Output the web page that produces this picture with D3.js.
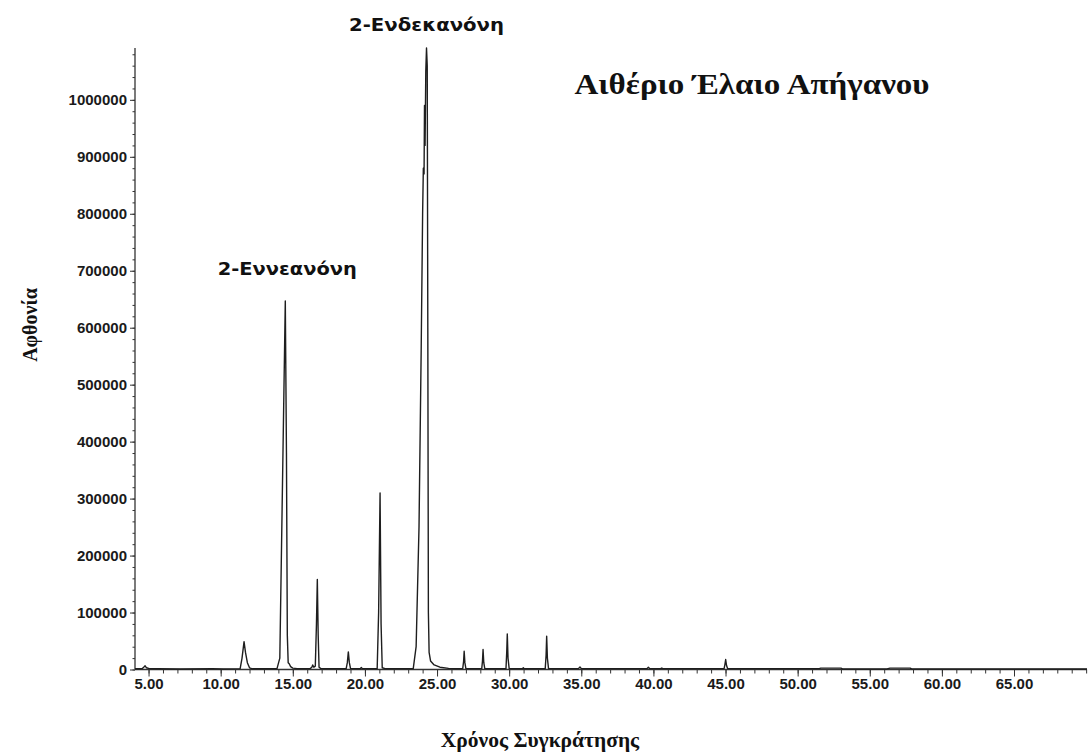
<!DOCTYPE html>
<html>
<head>
<meta charset="utf-8">
<script src="https://cdn.jsdelivr.net/npm/d3@7"></script>
<style>
  html, body { margin: 0; padding: 0; background: #fff; }
  svg { display: block; }
</style>
</head>
<body>
<svg id="chart" width="1089" height="755"></svg>
<script>
// Retention time (min) of each sampled point of the chromatogram trace
const retentionTime = [
  4.06, 4.55, 4.68, 4.76, 4.86, 5.05, 5.65, 7.2, 9.4, 10.2,
  11.35, 11.48, 11.62, 11.72, 11.85, 12.0, 12.2,
  13.9, 14.1, 14.3, 14.48, 14.56, 14.62, 14.68, 14.75, 14.85, 15.0, 15.3,
  16.2, 16.32, 16.38, 16.46, 16.56, 16.64, 16.70, 16.76, 16.82, 16.95,
  18.7, 18.78, 18.85, 18.92, 19.0, 19.68, 19.75, 19.82,
  20.85, 20.95, 21.05, 21.12, 21.2, 21.4,
  23.35, 23.55, 23.75, 23.9, 24.0, 24.05, 24.1, 24.13, 24.17, 24.22, 24.27,
  24.32, 24.36, 24.4, 24.45, 24.55, 24.8, 25.2, 25.8, 26.3,
  26.78, 26.84, 26.88, 26.93, 27.0,
  28.1, 28.15, 28.19, 28.24, 28.31,
  29.78, 29.83, 29.87, 29.92, 30.0, 30.92, 30.98, 31.04,
  32.5, 32.56, 32.60, 32.65, 32.73,
  34.8, 34.91, 35.0, 39.55, 39.65, 39.75, 40.5, 40.58, 40.66,
  44.9, 44.96, 45.01, 45.07, 45.15,
  51.5, 51.6, 53.0, 53.1, 56.2, 56.4, 57.8, 57.9, 70.06
];

// Detector abundance at each retention time above
const abundance = [
  1200, 1500, 4500, 6500, 3000, 1500, 1200, 1000, 1500, 1000,
  1500, 20000, 49000, 30000, 12000, 3000, 1200,
  1200, 20000, 350000, 647000, 380000, 60000, 12000, 10000, 5000, 2500, 1500,
  1500, 4000, 8000, 4000, 6000, 80000, 158000, 60000, 4000, 1500,
  1500, 12000, 31000, 12000, 2000, 1500, 3500, 1500,
  1500, 100000, 310000, 80000, 3000, 1500,
  1500, 40000, 250000, 560000, 800000, 880000, 870000, 990000, 920000, 1050000, 1091000,
  1060000, 600000, 100000, 30000, 15000, 8000, 4000, 2000, 1500,
  1500, 14000, 32000, 12000, 1500,
  1500, 15000, 35000, 12000, 1500,
  1500, 30000, 62500, 20000, 1500, 1500, 3000, 1500,
  1500, 25000, 58500, 20000, 1500,
  1500, 4500, 1500, 1500, 4000, 1500, 1500, 2500, 1500,
  1500, 9000, 17500, 7000, 1500,
  1500, 2500, 2500, 1000, 1000, 2500, 2500, 1000, 1000
];

// Axis ticks
const yMajorTicks = [0, 100000, 200000, 300000, 400000, 500000, 600000, 700000, 800000, 900000, 1000000];
const yMinorTicks = d3.range(0, 1091000, 20000);
const xMajorTicks = [5, 10, 15, 20, 25, 30, 35, 40, 45, 50, 55, 60, 65];
const xMinorTicks = d3.range(5, 71, 1);

// Named compounds and the retention time of their peak
const compoundNames = ["2-Εννεανόνη", "2-Ενδεκανόνη"];
const compoundTimes = [14.48, 24.27];

const chartTitle = "Αιθέριο Έλαιο Απήγανου";
const xTitle = "Χρόνος Συγκράτησης";
const yTitle = "Αφθονία";

const svg = d3.select("#chart");

const x = d3.scaleLinear().domain([4.06, 70.06]).range([135, 1087]);
const y = d3.scaleLinear().domain([0, 1091000]).range([669.5, 48]);

const axisColor = "#333";
const labelFont = "'Liberation Sans', Arial, sans-serif";
const serif = "'Liberation Serif', 'Times New Roman', serif";
const handFont = "'Comic Sans MS', 'DejaVu Sans', sans-serif";

// Y axis: minor ticks, then major ticks with labels
svg.append("g")
  .attr("transform", `translate(${x.range()[0]},0)`)
  .call(d3.axisLeft(y).tickValues(yMinorTicks).tickSize(2.5).tickFormat(""))
  .call(g => g.select(".domain").remove())
  .call(g => g.selectAll("line").attr("stroke", axisColor));

const yAxis = svg.append("g")
  .attr("transform", `translate(${x.range()[0]},0)`)
  .call(d3.axisLeft(y).tickValues(yMajorTicks).tickSize(5).tickPadding(3).tickFormat(d3.format("d")));
yAxis.select(".domain").attr("stroke", axisColor).attr("stroke-width", 1.3)
  .attr("d", `M0,${y.range()[0]}V${y.range()[1]}`);
yAxis.selectAll("line").attr("stroke", axisColor);
yAxis.selectAll("text")
  .attr("font-family", labelFont).attr("font-weight", "bold")
  .attr("font-size", 15).attr("fill", "#1a1a1a");

// X axis: minor ticks, then major ticks with labels
svg.append("g")
  .attr("transform", `translate(0,${y.range()[0]})`)
  .call(d3.axisBottom(x).tickValues(xMinorTicks).tickSize(4).tickFormat(""))
  .call(g => g.select(".domain").remove())
  .call(g => g.selectAll("line").attr("stroke", axisColor));

const xAxis = svg.append("g")
  .attr("transform", `translate(0,${y.range()[0]})`)
  .call(d3.axisBottom(x).tickValues(xMajorTicks).tickSize(7).tickPadding(2).tickFormat(d3.format(".2f")));
xAxis.select(".domain").attr("stroke", axisColor).attr("stroke-width", 1.3)
  .attr("d", `M${x.range()[0]},0H${x.range()[1]}`);
xAxis.selectAll("line").attr("stroke", axisColor);
xAxis.selectAll("text")
  .attr("font-family", labelFont).attr("font-weight", "bold")
  .attr("font-size", 15).attr("fill", "#1a1a1a");

// Chromatogram trace
const trace = retentionTime.map((t, i) => [t, abundance[i]]);
svg.append("path")
  .datum(trace)
  .attr("fill", "none")
  .attr("stroke", "#1e1e1e")
  .attr("stroke-width", 1.4)
  .attr("stroke-linejoin", "round")
  .attr("d", d3.line().x(d => x(d[0])).y(d => y(d[1])));

// Compound labels above their peaks
const labelWidths = [139, 155];
compoundNames.forEach((name, i) => {
  const t = compoundTimes[i];
  const idx = retentionTime.indexOf(t);
  const peakY = y(abundance[idx]);
  const offset = peakY <= y.range()[1] + 1 ? 17 : 26;
  svg.append("text")
    .attr("x", x(t) + (i === 0 ? 2 : 0))
    .attr("y", peakY - offset)
    .attr("text-anchor", "middle")
    .attr("font-family", handFont)
    .attr("font-weight", "bold")
    .attr("font-size", 18)
    .attr("fill", "#111")
    .attr("textLength", labelWidths[i])
    .attr("lengthAdjust", "spacingAndGlyphs")
    .text(name);
});

// Titles
svg.append("text")
  .attr("x", 752).attr("y", 94)
  .attr("text-anchor", "middle")
  .attr("font-family", serif).attr("font-weight", "bold")
  .attr("font-size", 30).attr("fill", "#111")
  .attr("textLength", 355)
  .attr("lengthAdjust", "spacingAndGlyphs")
  .text(chartTitle);

svg.append("text")
  .attr("x", 540).attr("y", 747)
  .attr("text-anchor", "middle")
  .attr("font-family", serif).attr("font-weight", "bold")
  .attr("font-size", 21.5).attr("fill", "#111")
  .text(xTitle);

svg.append("text")
  .attr("transform", "translate(37,325) rotate(-90)")
  .attr("text-anchor", "middle")
  .attr("font-family", serif).attr("font-weight", "bold")
  .attr("font-size", 20).attr("fill", "#111")
  .text(yTitle);
</script>
</body>
</html>
